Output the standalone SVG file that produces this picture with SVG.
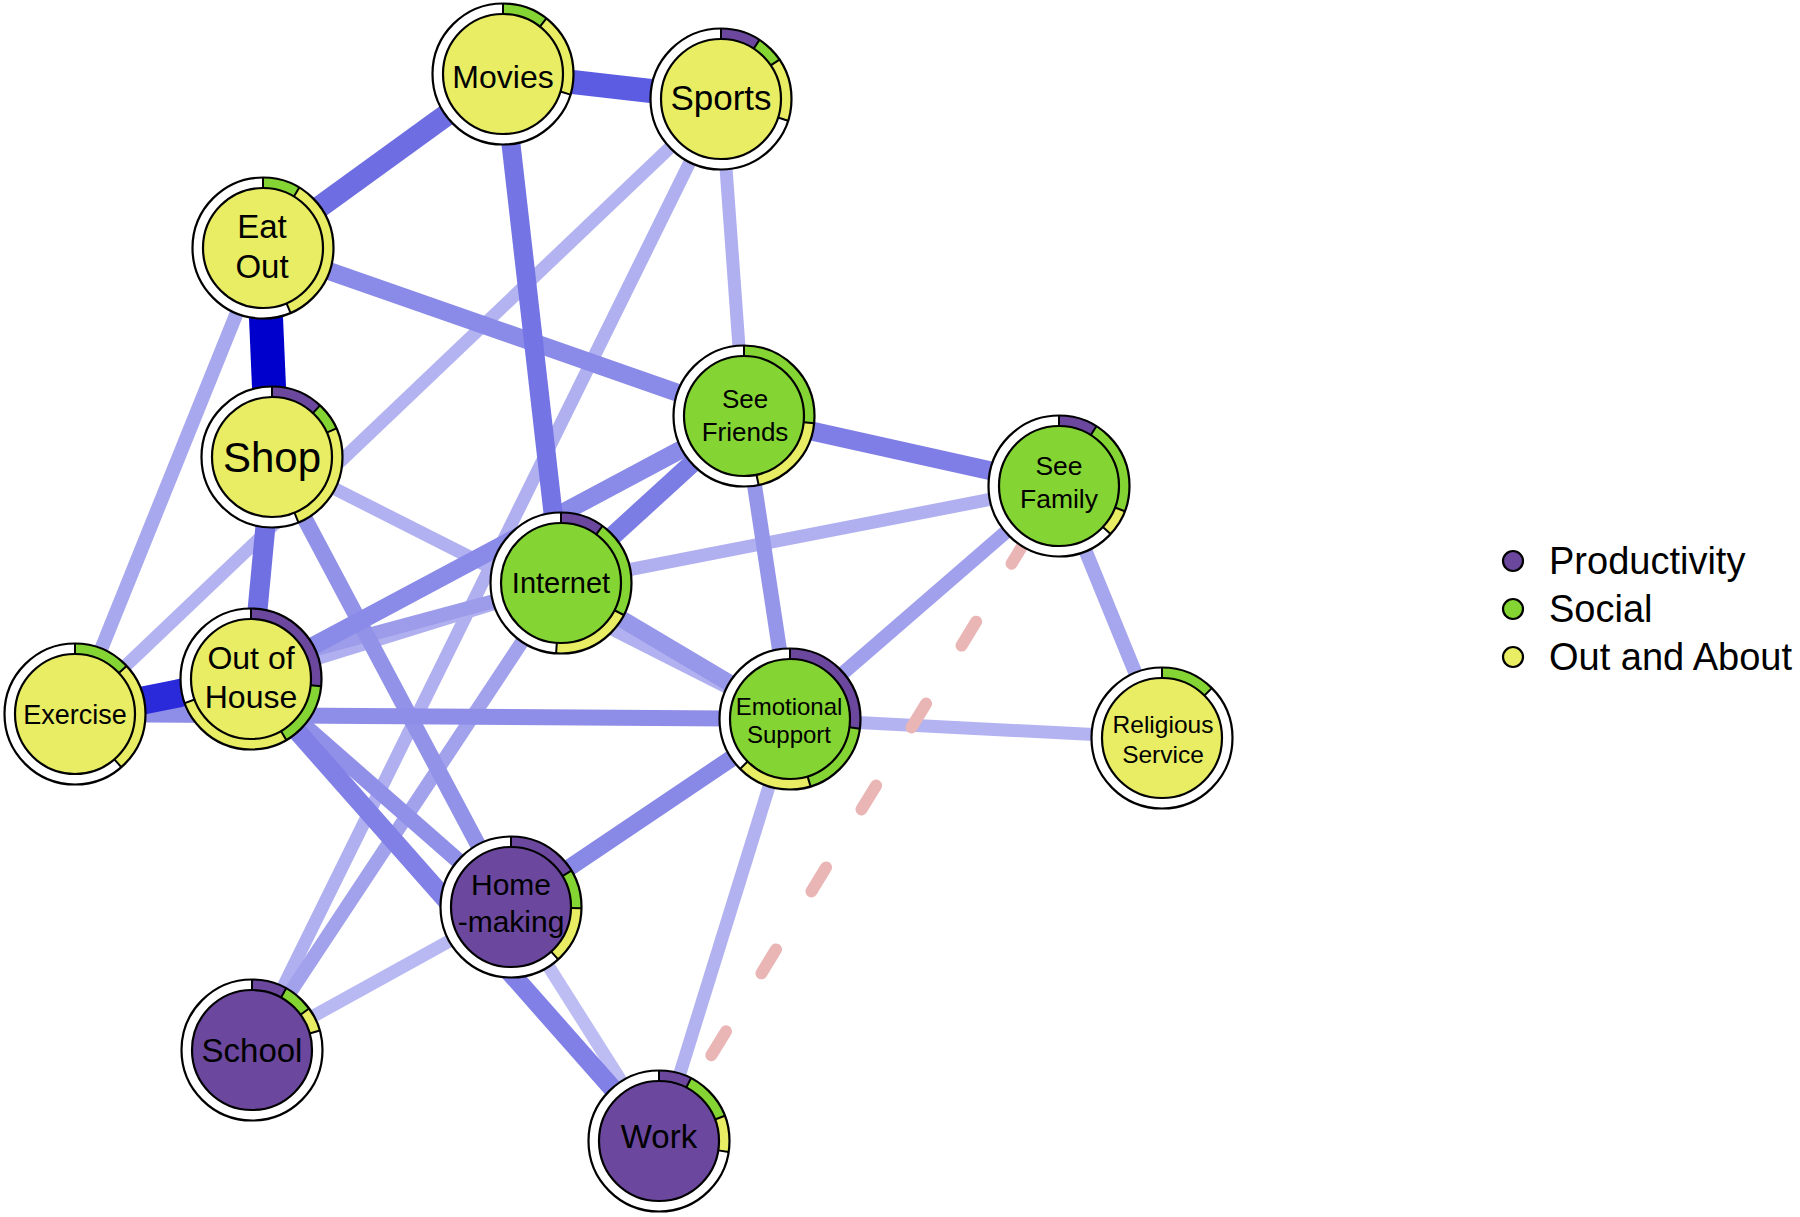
<svg xmlns="http://www.w3.org/2000/svg" width="1800" height="1217" viewBox="0 0 1800 1217">
<style>
.ring{fill:#fff}
.seg{fill:none;stroke-width:10.5}
.dv{stroke:#000;stroke-width:2}
.ob{fill:none;stroke:#000;stroke-width:2.2}
.core{stroke:#000;stroke-width:2.2}
.Y{fill:#e8ed64}.G{fill:#84d534}.P{fill:#6b489e}
.sY{stroke:#e8ed64}.sG{stroke:#84d534}.sP{stroke:#6b489e}
text{font-family:"Liberation Sans",Arial,Helvetica,sans-serif;text-anchor:middle;fill:#000}
.leg{text-anchor:start;font-size:38px}
#edges line{fill:none}
</style>
<defs>
<circle id="bg" r="70.5" class="ring"/>
<circle id="obd" r="70.5" class="ob"/>
<line id="d" x1="0" y1="-60" x2="0" y2="-70.5" class="dv"/>
</defs>
<rect width="1800" height="1217" fill="#fff"/>
<g id="edges">
<line x1="511" y1="907" x2="659" y2="1141" stroke="#bdbdf4" stroke-width="13"/>
<line x1="511" y1="907" x2="252" y2="1050" stroke="#b8b8f3" stroke-width="13"/>
<line x1="790" y1="719" x2="1162" y2="738" stroke="#b3b3f1" stroke-width="13"/>
<line x1="721" y1="99" x2="75" y2="714" stroke="#b3b3f1" stroke-width="13"/>
<line x1="790" y1="719" x2="659" y2="1141" stroke="#b2b2f0" stroke-width="13"/>
<line x1="272" y1="457" x2="790" y2="719" stroke="#b1b1f1" stroke-width="13"/>
<line x1="251" y1="679" x2="561" y2="583" stroke="#b0b0f0" stroke-width="13"/>
<line x1="561" y1="583" x2="1059" y2="486" stroke="#b0b0f0" stroke-width="13"/>
<line x1="721" y1="99" x2="744" y2="416" stroke="#b0b0f0" stroke-width="13"/>
<line x1="721" y1="99" x2="252" y2="1050" stroke="#b0b0f0" stroke-width="13"/>
<line x1="263" y1="248" x2="75" y2="714" stroke="#a8a8ee" stroke-width="14"/>
<line x1="1059" y1="486" x2="1162" y2="738" stroke="#a6a6ee" stroke-width="14"/>
<line x1="561" y1="583" x2="252" y2="1050" stroke="#a2a2ec" stroke-width="14"/>
<line x1="1059" y1="486" x2="790" y2="719" stroke="#a0a0ec" stroke-width="14"/>
<line x1="75" y1="714" x2="561" y2="583" stroke="#9c9cea" stroke-width="14"/>
<line x1="744" y1="416" x2="790" y2="719" stroke="#9595ea" stroke-width="15"/>
<line x1="272" y1="457" x2="511" y2="907" stroke="#9292e9" stroke-width="16"/>
<line x1="251" y1="679" x2="511" y2="907" stroke="#9090e9" stroke-width="16"/>
<line x1="561" y1="583" x2="790" y2="719" stroke="#9898ea" stroke-width="17"/>
<line x1="75" y1="714" x2="790" y2="719" stroke="#8e8ee8" stroke-width="16"/>
<line x1="511" y1="907" x2="790" y2="719" stroke="#8888e7" stroke-width="17"/>
<line x1="263" y1="248" x2="744" y2="416" stroke="#8a8ae8" stroke-width="18"/>
<line x1="744" y1="416" x2="251" y2="679" stroke="#8a8ae8" stroke-width="18"/>
<line x1="251" y1="679" x2="659" y2="1141" stroke="#8080e6" stroke-width="19"/>
<line x1="744" y1="416" x2="561" y2="583" stroke="#7c7ce5" stroke-width="19"/>
<line x1="744" y1="416" x2="1059" y2="486" stroke="#7e7ee6" stroke-width="19"/>
<line x1="272" y1="457" x2="251" y2="679" stroke="#7070e3" stroke-width="20"/>
<line x1="503" y1="74" x2="561" y2="583" stroke="#7474e4" stroke-width="19"/>
<line x1="503" y1="74" x2="263" y2="248" stroke="#6e6ee2" stroke-width="22"/>
<line x1="503" y1="74" x2="721" y2="99" stroke="#5c5ce2" stroke-width="24"/>
<line x1="75" y1="714" x2="251" y2="679" stroke="#2a2adb" stroke-width="28"/>
<line x1="263" y1="248" x2="272" y2="457" stroke="#0000cc" stroke-width="34"/>
<line x1="1022.5" y1="545.7" x2="695.5" y2="1081.3" stroke="#e9b5b5" stroke-width="12" stroke-linecap="round" stroke-dasharray="28 68" stroke-dashoffset="7"/>
</g>
<g id="n-movies" transform="translate(503,74)">
<use href="#bg"/>
<circle r="65.25" pathLength="360" transform="rotate(-90)" class="seg sG" stroke-dasharray="38 400" stroke-dashoffset="0"/>
<circle r="65.25" pathLength="360" transform="rotate(-90)" class="seg sY" stroke-dasharray="69 400" stroke-dashoffset="-38"/>
<use href="#d"/><use href="#d" transform="rotate(38)"/><use href="#d" transform="rotate(107)"/>
<use href="#obd"/><circle r="60" class="core Y"/>
<text x="0" y="14" font-size="32">Movies</text>
</g>
<g id="n-sports" transform="translate(721,99)">
<use href="#bg"/>
<circle r="65.25" pathLength="360" transform="rotate(-90)" class="seg sP" stroke-dasharray="33 400" stroke-dashoffset="0"/>
<circle r="65.25" pathLength="360" transform="rotate(-90)" class="seg sG" stroke-dasharray="23 400" stroke-dashoffset="-33"/>
<circle r="65.25" pathLength="360" transform="rotate(-90)" class="seg sY" stroke-dasharray="52 400" stroke-dashoffset="-56"/>
<use href="#d"/><use href="#d" transform="rotate(33)"/><use href="#d" transform="rotate(56)"/><use href="#d" transform="rotate(108)"/>
<use href="#obd"/><circle r="60" class="core Y"/>
<text x="0" y="11" font-size="35">Sports</text>
</g>
<g id="n-eatout" transform="translate(263,248)">
<use href="#bg"/>
<circle r="65.25" pathLength="360" transform="rotate(-90)" class="seg sG" stroke-dasharray="31 400" stroke-dashoffset="0"/>
<circle r="65.25" pathLength="360" transform="rotate(-90)" class="seg sY" stroke-dasharray="126 400" stroke-dashoffset="-31"/>
<use href="#d"/><use href="#d" transform="rotate(31)"/><use href="#d" transform="rotate(157)"/>
<use href="#obd"/><circle r="60" class="core Y"/>
<text font-size="33"><tspan x="-1" y="-10">Eat</tspan><tspan x="-1" y="30">Out</tspan></text>
</g>
<g id="n-shop" transform="translate(272,457)">
<use href="#bg"/>
<circle r="65.25" pathLength="360" transform="rotate(-90)" class="seg sP" stroke-dasharray="43 400" stroke-dashoffset="0"/>
<circle r="65.25" pathLength="360" transform="rotate(-90)" class="seg sG" stroke-dasharray="23 400" stroke-dashoffset="-43"/>
<circle r="65.25" pathLength="360" transform="rotate(-90)" class="seg sY" stroke-dasharray="92 400" stroke-dashoffset="-66"/>
<use href="#d"/><use href="#d" transform="rotate(43)"/><use href="#d" transform="rotate(66)"/><use href="#d" transform="rotate(158)"/>
<use href="#obd"/><circle r="60" class="core Y"/>
<text x="0" y="15" font-size="42">Shop</text>
</g>
<g id="n-seefriends" transform="translate(744,416)">
<use href="#bg"/>
<circle r="65.25" pathLength="360" transform="rotate(-90)" class="seg sG" stroke-dasharray="96 400" stroke-dashoffset="0"/>
<circle r="65.25" pathLength="360" transform="rotate(-90)" class="seg sY" stroke-dasharray="72 400" stroke-dashoffset="-96"/>
<use href="#d"/><use href="#d" transform="rotate(96)"/><use href="#d" transform="rotate(168)"/>
<use href="#obd"/><circle r="60" class="core G"/>
<text font-size="26"><tspan x="1" y="-8">See</tspan><tspan x="1" y="25">Friends</tspan></text>
</g>
<g id="n-seefamily" transform="translate(1059,486)">
<use href="#bg"/>
<circle r="65.25" pathLength="360" transform="rotate(-90)" class="seg sP" stroke-dasharray="32 400" stroke-dashoffset="0"/>
<circle r="65.25" pathLength="360" transform="rotate(-90)" class="seg sG" stroke-dasharray="79 400" stroke-dashoffset="-32"/>
<circle r="65.25" pathLength="360" transform="rotate(-90)" class="seg sY" stroke-dasharray="22 400" stroke-dashoffset="-111"/>
<use href="#d"/><use href="#d" transform="rotate(32)"/><use href="#d" transform="rotate(111)"/><use href="#d" transform="rotate(133)"/>
<use href="#obd"/><circle r="60" class="core G"/>
<text font-size="26.5"><tspan x="0" y="-11">See</tspan><tspan x="0" y="22">Family</tspan></text>
</g>
<g id="n-internet" transform="translate(561,583)">
<use href="#bg"/>
<circle r="65.25" pathLength="360" transform="rotate(-90)" class="seg sP" stroke-dasharray="36 400" stroke-dashoffset="0"/>
<circle r="65.25" pathLength="360" transform="rotate(-90)" class="seg sG" stroke-dasharray="81 400" stroke-dashoffset="-36"/>
<circle r="65.25" pathLength="360" transform="rotate(-90)" class="seg sY" stroke-dasharray="67 400" stroke-dashoffset="-117"/>
<use href="#d"/><use href="#d" transform="rotate(36)"/><use href="#d" transform="rotate(117)"/><use href="#d" transform="rotate(184)"/>
<use href="#obd"/><circle r="60" class="core G"/>
<text x="0" y="10" font-size="29">Internet</text>
</g>
<g id="n-exercise" transform="translate(75,714)">
<use href="#bg"/>
<circle r="65.25" pathLength="360" transform="rotate(-90)" class="seg sG" stroke-dasharray="47 400" stroke-dashoffset="0"/>
<circle r="65.25" pathLength="360" transform="rotate(-90)" class="seg sY" stroke-dasharray="92 400" stroke-dashoffset="-47"/>
<use href="#d"/><use href="#d" transform="rotate(47)"/><use href="#d" transform="rotate(139)"/>
<use href="#obd"/><circle r="60" class="core Y"/>
<text x="0" y="10" font-size="27">Exercise</text>
</g>
<g id="n-outofhouse" transform="translate(251,679)">
<use href="#bg"/>
<circle r="65.25" pathLength="360" transform="rotate(-90)" class="seg sP" stroke-dasharray="96 400" stroke-dashoffset="0"/>
<circle r="65.25" pathLength="360" transform="rotate(-90)" class="seg sG" stroke-dasharray="54 400" stroke-dashoffset="-96"/>
<circle r="65.25" pathLength="360" transform="rotate(-90)" class="seg sY" stroke-dasharray="100 400" stroke-dashoffset="-150"/>
<use href="#d"/><use href="#d" transform="rotate(96)"/><use href="#d" transform="rotate(150)"/><use href="#d" transform="rotate(250)"/>
<use href="#obd"/><circle r="60" class="core Y"/>
<text font-size="32"><tspan x="0" y="-10">Out of</tspan><tspan x="0" y="29">House</tspan></text>
</g>
<g id="n-emotional" transform="translate(790,719)">
<use href="#bg"/>
<circle r="65.25" pathLength="360" transform="rotate(-90)" class="seg sP" stroke-dasharray="98 400" stroke-dashoffset="0"/>
<circle r="65.25" pathLength="360" transform="rotate(-90)" class="seg sG" stroke-dasharray="65 400" stroke-dashoffset="-98"/>
<circle r="65.25" pathLength="360" transform="rotate(-90)" class="seg sY" stroke-dasharray="62 400" stroke-dashoffset="-163"/>
<use href="#d"/><use href="#d" transform="rotate(98)"/><use href="#d" transform="rotate(163)"/><use href="#d" transform="rotate(225)"/>
<use href="#obd"/><circle r="60" class="core G"/>
<text font-size="24"><tspan x="-1" y="-4">Emotional</tspan><tspan x="-1" y="24">Support</tspan></text>
</g>
<g id="n-religious" transform="translate(1162,738)">
<use href="#bg"/>
<circle r="65.25" pathLength="360" transform="rotate(-90)" class="seg sG" stroke-dasharray="45 400" stroke-dashoffset="0"/>
<use href="#d"/><use href="#d" transform="rotate(45)"/>
<use href="#obd"/><circle r="60" class="core Y"/>
<text font-size="24.5"><tspan x="1" y="-5">Religious</tspan><tspan x="1" y="25">Service</tspan></text>
</g>
<g id="n-homemaking" transform="translate(511,907)">
<use href="#bg"/>
<circle r="65.25" pathLength="360" transform="rotate(-90)" class="seg sP" stroke-dasharray="59 400" stroke-dashoffset="0"/>
<circle r="65.25" pathLength="360" transform="rotate(-90)" class="seg sG" stroke-dasharray="32 400" stroke-dashoffset="-59"/>
<circle r="65.25" pathLength="360" transform="rotate(-90)" class="seg sY" stroke-dasharray="47 400" stroke-dashoffset="-91"/>
<use href="#d"/><use href="#d" transform="rotate(59)"/><use href="#d" transform="rotate(91)"/><use href="#d" transform="rotate(138)"/>
<use href="#obd"/><circle r="60" class="core P"/>
<text font-size="30"><tspan x="0" y="-12">Home</tspan><tspan x="0" y="25">-making</tspan></text>
</g>
<g id="n-school" transform="translate(252,1050)">
<use href="#bg"/>
<circle r="65.25" pathLength="360" transform="rotate(-90)" class="seg sP" stroke-dasharray="29 400" stroke-dashoffset="0"/>
<circle r="65.25" pathLength="360" transform="rotate(-90)" class="seg sG" stroke-dasharray="25 400" stroke-dashoffset="-29"/>
<circle r="65.25" pathLength="360" transform="rotate(-90)" class="seg sY" stroke-dasharray="20 400" stroke-dashoffset="-54"/>
<use href="#d"/><use href="#d" transform="rotate(29)"/><use href="#d" transform="rotate(54)"/><use href="#d" transform="rotate(74)"/>
<use href="#obd"/><circle r="60" class="core P"/>
<text x="0" y="12" font-size="33">School</text>
</g>
<g id="n-work" transform="translate(659,1141)">
<use href="#bg"/>
<circle r="65.25" pathLength="360" transform="rotate(-90)" class="seg sP" stroke-dasharray="27 400" stroke-dashoffset="0"/>
<circle r="65.25" pathLength="360" transform="rotate(-90)" class="seg sG" stroke-dasharray="42 400" stroke-dashoffset="-27"/>
<circle r="65.25" pathLength="360" transform="rotate(-90)" class="seg sY" stroke-dasharray="30 400" stroke-dashoffset="-69"/>
<use href="#d"/><use href="#d" transform="rotate(27)"/><use href="#d" transform="rotate(69)"/><use href="#d" transform="rotate(99)"/>
<use href="#obd"/><circle r="60" class="core P"/>
<text x="0" y="7" font-size="33">Work</text>
</g>
<g id="legend">
<circle cx="1513" cy="561" r="10" class="core P"/>
<circle cx="1513" cy="609" r="10" class="core G"/>
<circle cx="1513" cy="657" r="10" class="core Y"/>
<text class="leg" x="1549" y="574">Productivity</text>
<text class="leg" x="1549" y="622">Social</text>
<text class="leg" x="1549" y="670">Out and About</text>
</g>
</svg>
